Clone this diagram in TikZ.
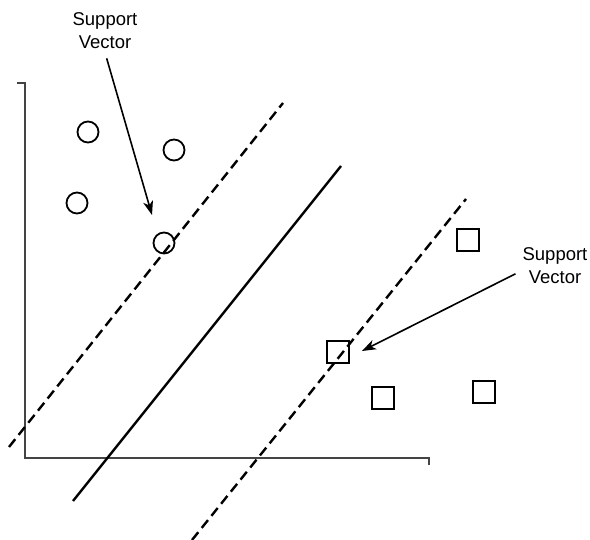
\documentclass[tikz,border=0pt]{standalone}
\usepackage{fontspec}
\setmainfont{Liberation Sans}
\usepackage{tikz}
\usetikzlibrary{arrows.meta}
\definecolor{axisgray}{HTML}{444444}
\newcommand{\fsLabel}{\fontsize{18.5}{23}\selectfont}

\begin{document}
\begin{tikzpicture}[x=1pt, y=-1pt, every node/.style={font=\fsLabel},
    circpt/.style={circle, draw, line width=1.8pt, minimum size=21pt, inner sep=0pt},
    sqpt/.style={rectangle, draw, line width=1.8pt, minimum size=22pt, inner sep=0pt},
    marginline/.style={line width=2.4pt, dash pattern=on 10pt off 5.5pt},
    hyperline/.style={line width=2.4pt},
    svarrow/.style={line width=1.6pt, -{Stealth[length=14pt, width=10pt, inset=4pt]}}]
  \useasboundingbox (0,0) rectangle (590,540);

  % axes
  \draw[axisgray, line width=1.8pt] (17,83) -- (25,83) -- (25,458) -- (429,458) -- (429,465);

  % separating line and margins
  \draw[marginline] (9,447) -- (283,103);
  \draw[hyperline] (73,501) -- (341,166);
  \draw[marginline] (192,540) -- (466,199);

  % class one: circles
  \node[circpt] (c1) at (88,132) {};
  \node[circpt] (c2) at (174,150) {};
  \node[circpt] (c3) at (77,203) {};
  \node[circpt] (c4) at (164,243) {};

  % class two: squares
  \node[sqpt] (s1) at (468,240) {};
  \node[sqpt] (s2) at (338,352) {};
  \node[sqpt] (s3) at (383,398) {};
  \node[sqpt] (s4) at (484,392) {};

  % support vector labels
  \node[align=center] (svlabA) at (105,31) {Support\\Vector};
  \coordinate (svtipA) at (152,215);
  \draw[svarrow, shorten <=6pt] (svlabA.south) -- (svtipA);

  \node[align=center] (svlabB) at (555,266) {Support\\Vector};
  \coordinate (svtipB) at (362,351);
  \draw[svarrow, shorten <=4pt] ([yshift=-6pt]svlabB.west) -- (svtipB);
\end{tikzpicture}
\end{document}
